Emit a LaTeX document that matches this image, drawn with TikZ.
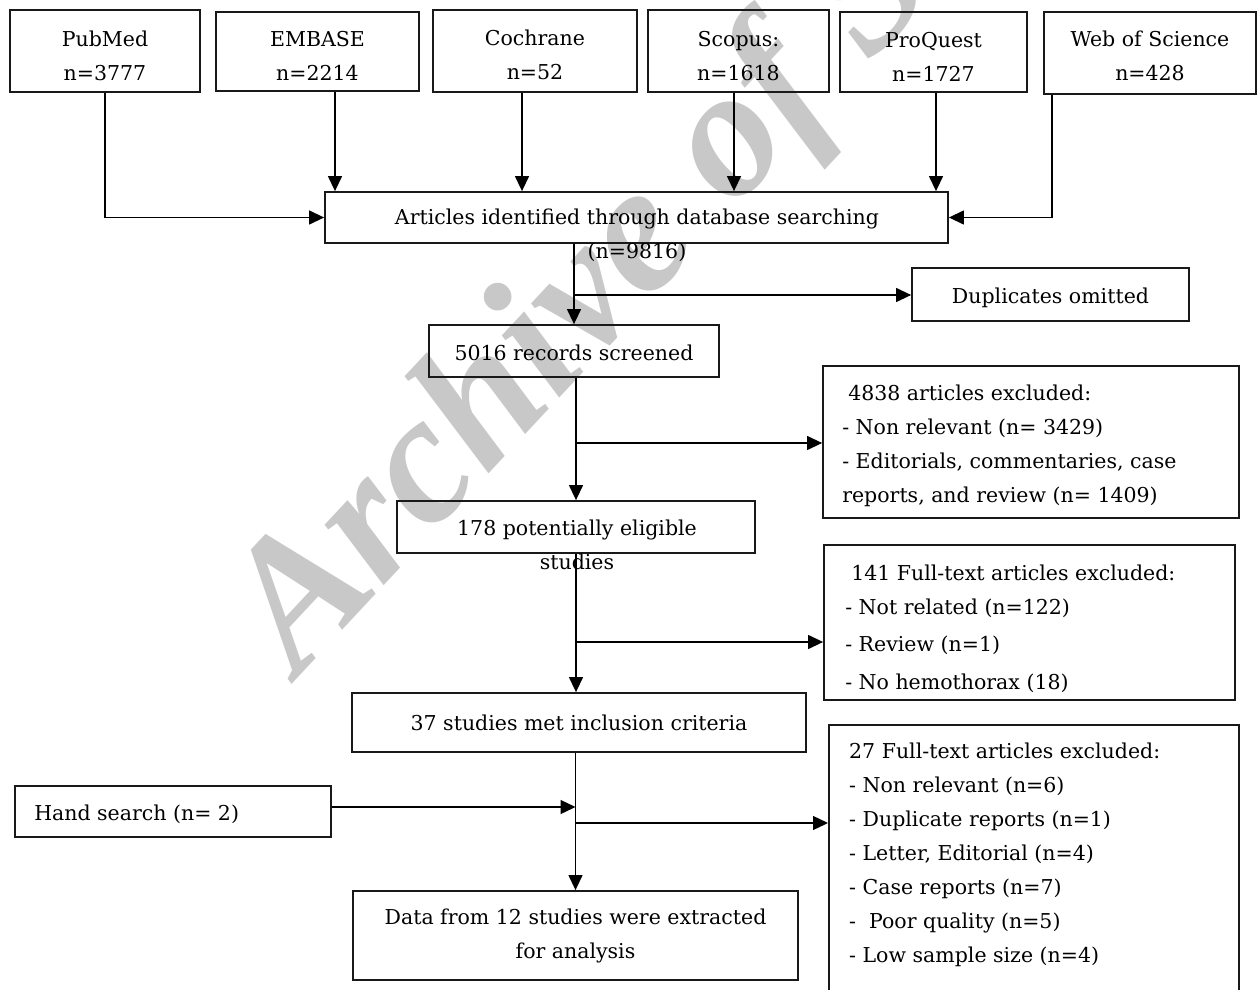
\documentclass[tikz,border=0pt]{standalone}
\usepackage{fontspec}
\setmainfont{DejaVu Serif}
\newfontfamily\wmfont{Liberation Serif Bold Italic}
\usetikzlibrary{arrows.meta}
\definecolor{wmgray}{RGB}{200,200,200}
\definecolor{ink}{RGB}{25,25,25}
\begin{document}
\begin{tikzpicture}[x=1pt,y=-1pt,
  box/.style={draw=ink, line width=1.8pt, inner sep=0pt},
  txt/.style={inner sep=0pt, align=center, font=\fontsize{20.5}{34}\selectfont},
  conn/.style={draw=black, line width=1.3pt},
  arr/.style={conn, -{Triangle[length=15pt,width=14pt]}},
  wm/.style={inner sep=0pt, text=wmgray, font=\wmfont\fontsize{184}{184}\selectfont}]
\useasboundingbox (0,0) rectangle (1259,990);
\clip (0,0) rectangle (1259,990);
% watermark
\node[wm, rotate=47, anchor=base west] (wmark) at (298,678) {Archive of SID};
% database boxes
\node[box, minimum width=190pt, minimum height=82pt] (pub) at (105,51) {};
\node[box, minimum width=203pt, minimum height=79pt] (emb) at (317.5,51.5) {};
\node[box, minimum width=204pt, minimum height=82pt] (coc) at (535,51) {};
\node[box, minimum width=181pt, minimum height=82pt] (sco) at (738.5,51) {};
\node[box, minimum width=187pt, minimum height=80pt] (pro) at (933.5,52) {};
\node[box, minimum width=212pt, minimum height=82pt] (wos) at (1150,53) {};
\node[txt] (pubt) at ([yshift=-4.5pt]pub.center) {PubMed\\n=3777};
\node[txt] (embt) at ([yshift=-4.5pt]emb.center) {EMBASE\\n=2214};
\node[txt] (coct) at ([yshift=-4pt]coc.center) {Cochrane\\n=52};
\node[txt] (scot) at ([yshift=-5pt]sco.center) {Scopus:\\n=1618};
\node[txt] (prot) at ([yshift=-4.5pt]pro.center) {ProQuest\\n=1727};
\node[txt] (wost) at ([yshift=-3pt]wos.center) {Web of Science\\n=428};
% identified
\node[box, minimum width=623pt, minimum height=51pt] (art) at (636.5,217.5) {};
\node[txt] (artt) at (637,235.5) {Articles identified through database searching\\(n=9816)};
\draw[arr] (pub.south) |- (art.west);
\draw[arr] ([xshift=17.5pt]emb.south) -- ([xshift=17.5pt]emb.south |- art.north);
\draw[arr] ([xshift=-13pt]coc.south) -- ([xshift=-13pt]coc.south |- art.north);
\draw[arr] ([xshift=-4.5pt]sco.south) -- ([xshift=-4.5pt]sco.south |- art.north);
\draw[arr] ([xshift=2.5pt]pro.south) -- ([xshift=2.5pt]pro.south |- art.north);
\draw[arr] ([xshift=-98pt]wos.south) |- (art.east);
% screened
\node[box, minimum width=290pt, minimum height=52pt] (scr) at (574,351) {};
\node[txt] (scrt) at ([yshift=-2pt]scr.center) {5016 records screened};
\node[box, minimum width=277pt, minimum height=53pt] (dup) at (1050.5,294.5) {};
\node[txt] (dupt) at ([yshift=-3pt]dup.center) {Duplicates omitted};
\draw[arr] (scr.north |- art.south) -- (scr.north);
\coordinate (b1) at (574,295);
\draw[arr] (b1) -- (b1 -| dup.west);
% excluded 1
\node[box, minimum width=416pt, minimum height=152pt] (ex1) at (1031,442) {};
\node[txt, anchor=west, align=left] (ex1t) at ([xshift=20pt,yshift=-4pt]ex1.west)
  {\hspace{6pt}4838 articles excluded:\\- Non relevant (n= 3429)\\- Editorials, commentaries, case\\reports, and review (n= 1409)};
% eligible
\node[box, minimum width=358pt, minimum height=52pt] (elig) at (576,527) {};
\node[txt] (eligt) at (577,545) {178 potentially eligible\\studies};
\draw[arr] (elig.north |- scr.south) -- (elig.north);
\coordinate (b2) at (575,443);
\draw[arr] (b2) -- (b2 -| ex1.west);
% excluded 2
\node[box, minimum width=411pt, minimum height=155pt] (ex2) at (1029.5,622.5) {};
\node[txt, anchor=west, align=left] (ex2t) at ([xshift=22pt,yshift=-6pt]ex2.west)
  {\hspace{6pt}141 Full-text articles excluded:\\- Not related (n=122)\\[3pt]- Review (n=1)\\[4pt]- No hemothorax (18)};
% included
\node[box, minimum width=454pt, minimum height=59pt] (inc) at (579,722.5) {};
\node[txt] (inct) at (inc.center) {37 studies met inclusion criteria};
\draw[arr] (elig.south) -- (elig.south |- inc.north);
\coordinate (b3) at (575,642);
\draw[arr] (b3) -- (b3 -| ex2.west);
% final
\node[box, minimum width=445pt, minimum height=89pt] (data) at (575.5,935.5) {};
\node[txt] (datat) at (data.center) {Data from 12 studies were extracted\\for analysis};
\node[box, minimum width=316pt, minimum height=51pt] (hand) at (173,811.5) {};
\node[txt, anchor=west] (handt) at ([xshift=20pt,yshift=-2.5pt]hand.west) {Hand search (n= 2)};
\draw[arr] (data.north |- inc.south) -- (data.north);
\draw[arr] ([yshift=4.5pt]hand.east) -- ([yshift=4.5pt]hand.east -| data.north);
\node[box, anchor=north west, minimum width=410pt, minimum height=300pt] (ex3) at (828,724) {};
\node[txt, anchor=west, align=left] (ex3t) at (849,855)
  {27 Full-text articles excluded:\\- Non relevant (n=6)\\- Duplicate reports (n=1)\\- Letter, Editorial (n=4)\\- Case reports (n=7)\\- \ Poor quality (n=5)\\- Low sample size (n=4)};
\coordinate (b4) at (575,823);
\draw[arr] (b4) -- (b4 -| ex3.west);
\end{tikzpicture}
\end{document}
